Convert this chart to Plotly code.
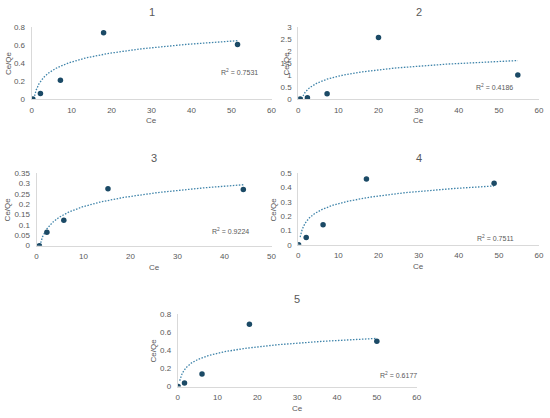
import numpy as np
import plotly.graph_objects as go

# data: Ce vs Ce/Qe for the five panels
panel_names = ["1", "2", "3", "4", "5"]
ce_1 = [0.3, 2.2, 7.2, 18.0, 51.5]
cq_1 = [0.0, 0.06, 0.21, 0.74, 0.61]
ce_2 = [0.5, 2.3, 7.2, 20.0, 54.7]
cq_2 = [0.0, 0.05, 0.22, 2.58, 1.0]
ce_3 = [0.6, 2.2, 5.8, 15.2, 44.0]
cq_3 = [0.0, 0.065, 0.123, 0.275, 0.272]
ce_4 = [0.1, 2.0, 6.2, 17.0, 48.8]
cq_4 = [0.0, 0.05, 0.14, 0.46, 0.43]
ce_5 = [0.1, 1.7, 6.1, 18.0, 50.0]
cq_5 = [0.0, 0.04, 0.14, 0.69, 0.50]
r2_labels = ["0.7531", "0.4186", "0.9224", "0.7511", "0.6177"]

xs = [ce_1, ce_2, ce_3, ce_4, ce_5]
ys = [cq_1, cq_2, cq_3, cq_4, cq_5]

# pixel layout of each panel (left, right, top, bottom) in a 550x418 page
W, H = 550, 418
boxes = [(30, 273, 24, 97), (300, 544, 24, 97), (35, 273, 173, 247),
         (300, 544, 173, 246), (178, 420, 317, 391)]
xmax = [60, 60, 50, 60, 60]
ymax = [0.8, 3, 0.35, 0.5, 0.8]
ystep = [0.2, 0.5, 0.05, 0.1, 0.2]
r2_pos = [(241, 69), (499, 85), (231, 232), (500, 239), (402, 379)]
ytitle_x = [6, 288, 6, 276, 153]

dot_color = "#1b4a66"
trend_color = "#3f84aa"
grey = "#595959"

fig = go.Figure()
layout = {}
annotations = []
for i in range(5):
    n = "" if i == 0 else str(i + 1)
    x = np.array(xs[i])
    y = np.array(ys[i])
    # logarithmic trendline, like the spreadsheet one
    a, b = np.polyfit(np.log(x), y, 1)
    tx = np.geomspace(max(x.min(), 0.5), x.max(), 200)
    ty = a * np.log(tx) + b
    keep = ty >= 0
    fig.add_trace(go.Scatter(x=tx[keep], y=ty[keep], mode="lines",
                             line=dict(color=trend_color, width=1.3, dash="1.5px,1.5px"),
                             xaxis="x" + n, yaxis="y" + n, showlegend=False))
    fig.add_trace(go.Scatter(x=x, y=y, mode="markers",
                             marker=dict(color=dot_color, size=5.5),
                             xaxis="x" + n, yaxis="y" + n, showlegend=False))
    l, r, t, btm = boxes[i]
    layout["xaxis" + n] = dict(domain=[l / W, r / W], anchor="y" + n,
                               range=[0, xmax[i]], dtick=10, showgrid=False,
                               zeroline=False, showline=True, linecolor="#d9d9d9",
                               ticks="", ticklabelstandoff=3,
                               tickfont=dict(size=8, color=grey))
    layout["yaxis" + n] = dict(domain=[(H - btm) / H, (H - t) / H], anchor="x" + n,
                               range=[0, ymax[i]], dtick=ystep[i], showgrid=False,
                               zeroline=False, showline=True, linecolor="#d9d9d9",
                               ticks="", ticklabelstandoff=4,
                               tickfont=dict(size=8, color=grey))
    annotations.append(dict(text=panel_names[i], x=(l + r) / 2 / W, y=1 - (t - 16) / H,
                            xref="paper", yref="paper", showarrow=False,
                            xanchor="center", yanchor="middle",
                            font=dict(size=11, color=grey)))
    annotations.append(dict(text="Ce", x=(l + r) / 2 / W, y=1 - (btm + 22) / H,
                            xref="paper", yref="paper", showarrow=False,
                            xanchor="center", yanchor="middle",
                            font=dict(size=8, color=grey)))
    annotations.append(dict(text="Ce/Qe", x=ytitle_x[i] / W, y=1 - (t + btm) / 2 / H,
                            xref="paper", yref="paper", showarrow=False, textangle=-90,
                            xanchor="center", yanchor="middle",
                            font=dict(size=8, color=grey)))
    annotations.append(dict(text="R<sup>2</sup> = " + r2_labels[i],
                            x=r2_pos[i][0] / W, y=1 - r2_pos[i][1] / H,
                            xref="paper", yref="paper", showarrow=False,
                            xanchor="center", yanchor="middle",
                            font=dict(size=7, color=grey)))

fig.update_layout(**layout)
fig.update_layout(width=W, height=H, margin=dict(l=0, r=0, t=0, b=0),
                  paper_bgcolor="white", plot_bgcolor="white",
                  font=dict(family="Liberation Sans, Arial, sans-serif"),
                  annotations=annotations)
# the page body has a default 8px margin; drop it so the figure fills the window
fig.write_html("out.html", config={"displayModeBar": False},
               post_script="document.body.style.margin='0';")
